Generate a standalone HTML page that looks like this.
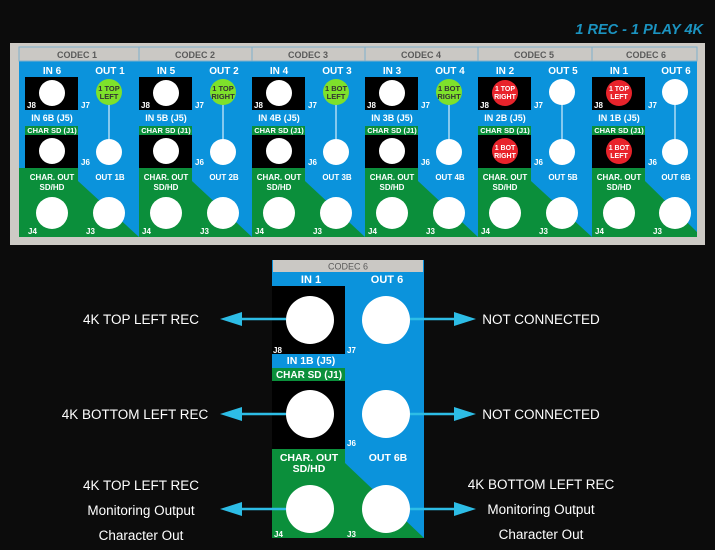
<!DOCTYPE html>
<html><head><meta charset="utf-8"><style>
html,body{margin:0;padding:0;background:#0c0c0c;}
svg{display:block;font-family:"Liberation Sans",Arial,sans-serif;font-weight:bold;}
.w{fill:#fff;text-anchor:middle;}
.h{fill:#5a5a5a;text-anchor:middle;font-size:9px;}
.j{fill:#fff;font-size:8px;}
.l{fill:#fff;font-weight:normal;font-size:13.5px;text-anchor:middle;}
</style></head><body>
<svg width="715" height="550" viewBox="0 0 715 550" xmlns="http://www.w3.org/2000/svg">
<text x="703" y="34" text-anchor="end" font-style="italic" font-size="14.5" fill="#1b93c0">1 REC - 1 PLAY 4K</text>
<rect x="10" y="43" width="695" height="202" fill="#cdcac5"/>
<rect x="19" y="47" width="120" height="190" fill="#0b93dc"/>
<rect x="19" y="47" width="120" height="14" fill="#cac8c4" stroke="#7fb0cc" stroke-width="1"/>
<polygon points="19,168 25,168 25,237 19,237" fill="#0b8f3b"/>

<g transform="translate(25,0)">
<rect x="0" y="61.5" width="114" height="175.5" fill="#0b93dc"/>
<polygon points="0,168 53,168 53,181 114,237 0,237" fill="#0b8f3b"/>
<rect x="0" y="77" width="53" height="33" fill="#000"/><rect x="0" y="135" width="53" height="33" fill="#000"/><rect x="0" y="126" width="53" height="9" fill="#0b8f3b"/>
<text class="h" x="52" y="58">CODEC 1</text>
<text class="w" x="27" y="74" font-size="10">IN 6</text><text class="w" x="85" y="74" font-size="10">OUT 1</text>
<text class="j" x="2" y="108">J8</text><text class="j" x="56" y="108">J7</text>
<text class="w" x="27" y="121" font-size="9">IN 6B (J5)</text><text class="w" x="27" y="133" font-size="7.5">CHAR SD (J1)</text>
<text class="j" x="56" y="165">J6</text>
<text class="w" x="27" y="180" font-size="8">CHAR. OUT</text><text class="w" x="27" y="190" font-size="8">SD/HD</text><text class="w" x="85" y="180" font-size="8">OUT 1B</text>
<text class="j" x="3" y="234">J4</text><text class="j" x="61" y="234">J3</text>
<line x1="84" y1="100" x2="84" y2="140" stroke="#fff"/>
<circle cx="27" cy="93" r="13" fill="#fff"/><circle cx="84" cy="92" r="13" fill="#7ee12b"/>
<text x="84" y="91" font-size="7.5" fill="#333" text-anchor="middle">1 TOP</text><text x="84" y="99" font-size="7.5" fill="#333" text-anchor="middle">LEFT</text>
<circle cx="27" cy="151" r="13" fill="#fff"/><circle cx="84" cy="152" r="13" fill="#fff"/>
<circle cx="27" cy="213" r="16" fill="#fff"/><circle cx="84" cy="213" r="16" fill="#fff"/>
</g>

<g transform="translate(139,0)">
<rect x="0" y="47" width="113" height="190" fill="#0b93dc"/>
<rect x="0" y="47" width="113" height="14" fill="#cac8c4" stroke="#7fb0cc"/>
<polygon points="0,168 53,168 53,181 113,237 0,237" fill="#0b8f3b"/>
<rect x="0" y="77" width="53" height="33" fill="#000"/><rect x="0" y="135" width="53" height="33" fill="#000"/><rect x="0" y="126" width="53" height="9" fill="#0b8f3b"/>
<text class="h" x="56" y="58">CODEC 2</text>
<text class="w" x="27" y="74" font-size="10">IN 5</text><text class="w" x="85" y="74" font-size="10">OUT 2</text>
<text class="j" x="2" y="108">J8</text><text class="j" x="56" y="108">J7</text>
<text class="w" x="27" y="121" font-size="9">IN 5B (J5)</text><text class="w" x="27" y="133" font-size="7.5">CHAR SD (J1)</text>
<text class="j" x="56" y="165">J6</text>
<text class="w" x="27" y="180" font-size="8">CHAR. OUT</text><text class="w" x="27" y="190" font-size="8">SD/HD</text><text class="w" x="85" y="180" font-size="8">OUT 2B</text>
<text class="j" x="3" y="234">J4</text><text class="j" x="61" y="234">J3</text>
<line x1="84" y1="100" x2="84" y2="140" stroke="#fff"/>
<circle cx="27" cy="93" r="13" fill="#fff"/><circle cx="84" cy="92" r="13" fill="#7ee12b"/>
<text x="84" y="91" font-size="7.5" fill="#333" text-anchor="middle">1 TOP</text><text x="84" y="99" font-size="7.5" fill="#333" text-anchor="middle">RIGHT</text>
<circle cx="27" cy="151" r="13" fill="#fff"/><circle cx="84" cy="152" r="13" fill="#fff"/>
<circle cx="27" cy="213" r="16" fill="#fff"/><circle cx="84" cy="213" r="16" fill="#fff"/>
</g>

<g transform="translate(252,0)">
<rect x="0" y="47" width="113" height="190" fill="#0b93dc"/>
<rect x="0" y="47" width="113" height="14" fill="#cac8c4" stroke="#7fb0cc"/>
<polygon points="0,168 53,168 53,181 113,237 0,237" fill="#0b8f3b"/>
<rect x="0" y="77" width="53" height="33" fill="#000"/><rect x="0" y="135" width="53" height="33" fill="#000"/><rect x="0" y="126" width="53" height="9" fill="#0b8f3b"/>
<text class="h" x="56" y="58">CODEC 3</text>
<text class="w" x="27" y="74" font-size="10">IN 4</text><text class="w" x="85" y="74" font-size="10">OUT 3</text>
<text class="j" x="2" y="108">J8</text><text class="j" x="56" y="108">J7</text>
<text class="w" x="27" y="121" font-size="9">IN 4B (J5)</text><text class="w" x="27" y="133" font-size="7.5">CHAR SD (J1)</text>
<text class="j" x="56" y="165">J6</text>
<text class="w" x="27" y="180" font-size="8">CHAR. OUT</text><text class="w" x="27" y="190" font-size="8">SD/HD</text><text class="w" x="85" y="180" font-size="8">OUT 3B</text>
<text class="j" x="3" y="234">J4</text><text class="j" x="61" y="234">J3</text>
<line x1="84" y1="100" x2="84" y2="140" stroke="#fff"/>
<circle cx="27" cy="93" r="13" fill="#fff"/><circle cx="84" cy="92" r="13" fill="#7ee12b"/>
<text x="84" y="91" font-size="7.5" fill="#333" text-anchor="middle">1 BOT</text><text x="84" y="99" font-size="7.5" fill="#333" text-anchor="middle">LEFT</text>
<circle cx="27" cy="151" r="13" fill="#fff"/><circle cx="84" cy="152" r="13" fill="#fff"/>
<circle cx="27" cy="213" r="16" fill="#fff"/><circle cx="84" cy="213" r="16" fill="#fff"/>
</g>

<g transform="translate(365,0)">
<rect x="0" y="47" width="113" height="190" fill="#0b93dc"/>
<rect x="0" y="47" width="113" height="14" fill="#cac8c4" stroke="#7fb0cc"/>
<polygon points="0,168 53,168 53,181 113,237 0,237" fill="#0b8f3b"/>
<rect x="0" y="77" width="53" height="33" fill="#000"/><rect x="0" y="135" width="53" height="33" fill="#000"/><rect x="0" y="126" width="53" height="9" fill="#0b8f3b"/>
<text class="h" x="56" y="58">CODEC 4</text>
<text class="w" x="27" y="74" font-size="10">IN 3</text><text class="w" x="85" y="74" font-size="10">OUT 4</text>
<text class="j" x="2" y="108">J8</text><text class="j" x="56" y="108">J7</text>
<text class="w" x="27" y="121" font-size="9">IN 3B (J5)</text><text class="w" x="27" y="133" font-size="7.5">CHAR SD (J1)</text>
<text class="j" x="56" y="165">J6</text>
<text class="w" x="27" y="180" font-size="8">CHAR. OUT</text><text class="w" x="27" y="190" font-size="8">SD/HD</text><text class="w" x="85" y="180" font-size="8">OUT 4B</text>
<text class="j" x="3" y="234">J4</text><text class="j" x="61" y="234">J3</text>
<line x1="84" y1="100" x2="84" y2="140" stroke="#fff"/>
<circle cx="27" cy="93" r="13" fill="#fff"/><circle cx="84" cy="92" r="13" fill="#7ee12b"/>
<text x="84" y="91" font-size="7.5" fill="#333" text-anchor="middle">1 BOT</text><text x="84" y="99" font-size="7.5" fill="#333" text-anchor="middle">RIGHT</text>
<circle cx="27" cy="151" r="13" fill="#fff"/><circle cx="84" cy="152" r="13" fill="#fff"/>
<circle cx="27" cy="213" r="16" fill="#fff"/><circle cx="84" cy="213" r="16" fill="#fff"/>
</g>

<g transform="translate(478,0)">
<rect x="0" y="47" width="114" height="190" fill="#0b93dc"/>
<rect x="0" y="47" width="114" height="14" fill="#cac8c4" stroke="#7fb0cc"/>
<polygon points="0,168 53,168 53,181 114,237 0,237" fill="#0b8f3b"/>
<rect x="0" y="77" width="53" height="33" fill="#000"/><rect x="0" y="135" width="53" height="33" fill="#000"/><rect x="0" y="126" width="53" height="9" fill="#0b8f3b"/>
<text class="h" x="56" y="58">CODEC 5</text>
<text class="w" x="27" y="74" font-size="10">IN 2</text><text class="w" x="85" y="74" font-size="10">OUT 5</text>
<text class="j" x="2" y="108">J8</text><text class="j" x="56" y="108">J7</text>
<text class="w" x="27" y="121" font-size="9">IN 2B (J5)</text><text class="w" x="27" y="133" font-size="7.5">CHAR SD (J1)</text>
<text class="j" x="56" y="165">J6</text>
<text class="w" x="27" y="180" font-size="8">CHAR. OUT</text><text class="w" x="27" y="190" font-size="8">SD/HD</text><text class="w" x="85" y="180" font-size="8">OUT 5B</text>
<text class="j" x="3" y="234">J4</text><text class="j" x="61" y="234">J3</text>
<line x1="84" y1="100" x2="84" y2="140" stroke="#fff"/>
<circle cx="27" cy="93" r="13" fill="#e8232b"/><circle cx="84" cy="92" r="13" fill="#fff"/>
<text x="27" y="91" font-size="7" fill="#fff" text-anchor="middle">1 TOP</text><text x="27" y="99" font-size="7" fill="#fff" text-anchor="middle">RIGHT</text>
<circle cx="27" cy="151" r="13" fill="#e8232b"/><circle cx="84" cy="152" r="13" fill="#fff"/>
<text x="27" y="150" font-size="7" fill="#fff" text-anchor="middle">1 BOT</text><text x="27" y="158" font-size="7" fill="#fff" text-anchor="middle">RIGHT</text>
<circle cx="27" cy="213" r="16" fill="#fff"/><circle cx="84" cy="213" r="16" fill="#fff"/>
</g>

<g transform="translate(592,0)">
<rect x="0" y="47" width="105" height="190" fill="#0b93dc"/>
<rect x="0" y="47" width="105" height="14" fill="#cac8c4" stroke="#7fb0cc"/>
<polygon points="0,168 53,168 53,181 105,232 105,237 0,237" fill="#0b8f3b"/>
<rect x="0" y="77" width="53" height="33" fill="#000"/><rect x="0" y="135" width="53" height="33" fill="#000"/><rect x="0" y="126" width="53" height="9" fill="#0b8f3b"/>
<text class="h" x="54" y="58">CODEC 6</text>
<text class="w" x="27" y="74" font-size="10">IN 1</text><text class="w" x="84" y="74" font-size="10">OUT 6</text>
<text class="j" x="2" y="108">J8</text><text class="j" x="56" y="108">J7</text>
<text class="w" x="27" y="121" font-size="9">IN 1B (J5)</text><text class="w" x="27" y="133" font-size="7.5">CHAR SD (J1)</text>
<text class="j" x="56" y="165">J6</text>
<text class="w" x="27" y="180" font-size="8">CHAR. OUT</text><text class="w" x="27" y="190" font-size="8">SD/HD</text><text class="w" x="84" y="180" font-size="8">OUT 6B</text>
<text class="j" x="3" y="234">J4</text><text class="j" x="61" y="234">J3</text>
<line x1="83" y1="100" x2="83" y2="140" stroke="#fff"/>
<circle cx="27" cy="93" r="13" fill="#e8232b"/><circle cx="83" cy="92" r="13" fill="#fff"/>
<text x="27" y="91" font-size="7" fill="#fff" text-anchor="middle">1 TOP</text><text x="27" y="99" font-size="7" fill="#fff" text-anchor="middle">LEFT</text>
<circle cx="27" cy="151" r="13" fill="#e8232b"/><circle cx="83" cy="152" r="13" fill="#fff"/>
<text x="27" y="150" font-size="7" fill="#fff" text-anchor="middle">1 BOT</text><text x="27" y="158" font-size="7" fill="#fff" text-anchor="middle">LEFT</text>
<circle cx="27" cy="213" r="16" fill="#fff"/><circle cx="83" cy="213" r="16" fill="#fff"/>
</g>

<rect x="272" y="260" width="152" height="278" fill="#0b93dc"/>
<rect x="273" y="260" width="150" height="12" fill="#cac8c4"/>
<text class="h" x="348" y="269.5" font-weight="normal" fill="#333" font-size="9.5">CODEC 6</text>
<polygon points="272,449 345,449 345,463 424,538 272,538" fill="#0b8f3b"/>
<rect x="272" y="286" width="73" height="68" fill="#000"/>
<rect x="272" y="381" width="73" height="68" fill="#000"/>
<rect x="272" y="368" width="73" height="13" fill="#0b8f3b"/>
<text class="w" x="311" y="283" font-size="11">IN 1</text><text class="w" x="387" y="283" font-size="11">OUT 6</text>
<text class="j" x="273" y="353" font-size="10">J8</text><text class="j" x="347" y="353" font-size="10">J7</text>
<text class="w" x="311" y="364" font-size="10.5">IN 1B (J5)</text>
<text class="w" x="309" y="378" font-size="10">CHAR SD (J1)</text>
<text class="j" x="347" y="446" font-size="10">J6</text>
<text class="w" x="309" y="461" font-size="10.5">CHAR. OUT</text><text class="w" x="309" y="472" font-size="10.5">SD/HD</text>
<text class="w" x="388" y="461" font-size="10.5">OUT 6B</text>
<text class="j" x="274" y="537" font-size="10">J4</text><text class="j" x="347" y="537" font-size="10">J3</text>
<g fill="#fff">
<circle cx="310" cy="320" r="24"/><circle cx="386" cy="320" r="24"/>
<circle cx="310" cy="414" r="24"/><circle cx="386" cy="414" r="24"/>
<circle cx="310" cy="509" r="24"/><circle cx="386" cy="509" r="24"/>
</g>
<g stroke="#2dbde6" stroke-width="2.5">
<line x1="236" y1="319" x2="286" y2="319"/><line x1="410" y1="319" x2="460" y2="319"/>
<line x1="236" y1="414" x2="286" y2="414"/><line x1="410" y1="414" x2="460" y2="414"/>
<line x1="236" y1="509" x2="286" y2="509"/><line x1="410" y1="509" x2="460" y2="509"/>
</g>
<g fill="#2dbde6">
<polygon points="220,319 242,312 242,326"/><polygon points="476,319 454,312 454,326"/>
<polygon points="220,414 242,407 242,421"/><polygon points="476,414 454,407 454,421"/>
<polygon points="220,509 242,502 242,516"/><polygon points="476,509 454,502 454,516"/>
</g>
<text class="l" x="141" y="324">4K TOP LEFT REC</text>
<text class="l" x="541" y="324">NOT CONNECTED</text>
<text class="l" x="135" y="419">4K BOTTOM LEFT REC</text>
<text class="l" x="541" y="419">NOT CONNECTED</text>
<text class="l" x="141" y="490">4K TOP LEFT REC</text>
<text class="l" x="141" y="515">Monitoring Output</text>
<text class="l" x="141" y="540">Character Out</text>
<text class="l" x="541" y="489">4K BOTTOM LEFT REC</text>
<text class="l" x="541" y="514">Monitoring Output</text>
<text class="l" x="541" y="539">Character Out</text>
</svg>
</body></html>
